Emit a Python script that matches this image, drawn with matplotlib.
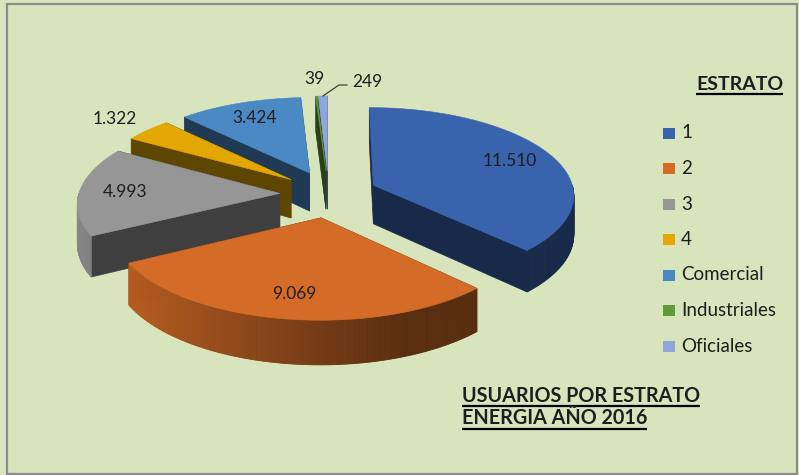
import numpy as np
import matplotlib
matplotlib.use('Agg')
import matplotlib.pyplot as plt
from matplotlib.patches import Polygon, Rectangle
import matplotlib.colors as mcolors

plt.rcParams['font.family'] = ['Lato', 'DejaVu Sans']

# Data
labels = ['1', '2', '3', '4', 'Comercial', 'Industriales', 'Oficiales']
usuarios = [11510, 9069, 4993, 1322, 3424, 39, 249]
value_text = ['11.510', '9.069', '4.993', '1.322', '3.424', '39', '249']
colors = ['#3a63ad', '#d46b26', '#969696', '#e2a700', '#4a89c3', '#5f9a3b', '#8ea6da']
legend_title = 'ESTRATO'
title_lines = ['USUARIOS POR ESTRATO', 'ENERGIA AÑO 2016']

bg = '#d8e4bc'
txt_col = '#1e1e1e'

# 3D pie projection (pixel space, y down)
cx, cy = 328.6, 194
rx, ry = 201, 87
persp = 0.1
ex, ey = 0.243, 0.27
depth = 39


def proj(u, v, z=0.0):
    s = 1.0 / (1.0 + persp * v)
    return cx + rx * u * s, cy - ry * v * s + depth * z * s


def shade(c, f):
    r, g, b = mcolors.to_rgb(c)
    return (r * f, g * f, b * f)


fig = plt.figure(figsize=(7.99, 4.75), dpi=100, facecolor=bg)
ax = fig.add_axes([0, 0, 1, 1])
ax.set_xlim(0, 799)
ax.set_ylim(475, 0)
ax.axis('off')
ax.add_patch(Rectangle((6.5, 4), 790, 470, fill=False, edgecolor='#8c8c8c', lw=1.6))

total = float(sum(usuarios))
slices = []
start = 90.0
for i, val in enumerate(usuarios):
    span = val / total * 360.0
    a_s, a_e = start, start - span
    m = np.radians((a_s + a_e) / 2)
    ou, ov = ex * np.cos(m), ey * np.sin(m)
    slices.append((i, a_s, a_e, m, ou, ov))
    start = a_e

# paint back to front
for i, a_s, a_e, m, ou, ov in sorted(slices, key=lambda t: -t[5]):
    col = colors[i]
    side = shade(col, 0.42)
    n = max(3, int(abs(a_s - a_e) * 2) + 2)
    th = np.radians(np.linspace(a_s, a_e, n))
    vtop = proj(ou, ov)
    vbot = proj(ou, ov, 1)

    def radial(a):
        e_top = proj(ou + np.cos(a), ov + np.sin(a))
        e_bot = proj(ou + np.cos(a), ov + np.sin(a), 1)
        return Polygon([vtop, e_top, e_bot, vbot], closed=True,
                       facecolor=side, edgecolor=side, lw=0.5)

    ra_s, ra_e = np.radians(a_s), np.radians(a_e)
    vis_s = np.cos(ra_s) < 0
    vis_e = np.cos(ra_e) > 0
    faces = [(vis_s, ra_s), (vis_e, ra_e)]
    for vis, a in sorted(faces, key=lambda f: f[0]):
        ax.add_patch(radial(a))

    # outer front wall
    for k in (-1, 0, 1):
        lo = max(a_e, -180 + 360 * k)
        hi = min(a_s, 360 * k)
        if hi <= lo:
            continue
        tt = np.radians(np.linspace(hi, lo, int((hi - lo) * 1.5) + 2))
        for t0, t1 in zip(tt[:-1], tt[1:]):
            tm = (t0 + t1) / 2
            f = np.clip(0.55 - 0.35 * np.cos(tm), 0.42, 0.95)
            c = shade(col, f)
            pts = [proj(ou + np.cos(t0), ov + np.sin(t0)),
                   proj(ou + np.cos(t1), ov + np.sin(t1)),
                   proj(ou + np.cos(t1), ov + np.sin(t1), 1),
                   proj(ou + np.cos(t0), ov + np.sin(t0), 1)]
            ax.add_patch(Polygon(pts, closed=True, facecolor=c, edgecolor=c, lw=0.6))

    top = [vtop] + [proj(ou + np.cos(t), ov + np.sin(t)) for t in th]
    ax.add_patch(Polygon(top, closed=True, facecolor=col, edgecolor=col, lw=0.4))

# data labels
for i, a_s, a_e, m, ou, ov in slices:
    frac = usuarios[i] / total
    if i == len(usuarios) - 1:
        x0, y0 = proj(ou + np.cos(m), ov + np.sin(m))
        ax.plot([x0, x0 + 16, x0 + 24], [y0, y0 - 11, y0 - 11], color='#404040', lw=0.9)
        ax.text(x0 + 29, y0 - 14, value_text[i], fontsize=12.5, color=txt_col,
                ha='left', va='center')
        continue
    r = 1.25 if frac < 0.05 else 0.77
    x, y = proj(ou + r * np.cos(m), ov + r * np.sin(m))
    ax.text(x, y, value_text[i], fontsize=12.5, color=txt_col, ha='center', va='center')

# legend
ly0, lstep = 133, 35.5
for i, lab in enumerate(labels):
    y = ly0 + i * lstep
    ax.add_patch(Rectangle((663, y - 5.5), 12, 11, facecolor=colors[i], edgecolor='none'))
    ax.text(681, y, lab, fontsize=13.5, color=txt_col, ha='left', va='center')

texts = []
texts.append(ax.text(783, 85, legend_title, fontsize=14, fontweight='bold',
                     color=txt_col, ha='right', va='center'))
for j, line in enumerate(title_lines):
    texts.append(ax.text(462, 396 + j * 22.5, line, fontsize=14.2, fontweight='bold',
                         color=txt_col, ha='left', va='center'))

fig.canvas.draw()
inv = ax.transData.inverted()
for t in texts:
    bb = t.get_window_extent()
    (x0, y0), (x1, _) = inv.transform([(bb.x0, bb.y0), (bb.x1, bb.y0)])
    ax.plot([x0, x1], [y0, y0], color='black', lw=1.6, solid_capstyle='butt')

fig.savefig('out.png', dpi=100, facecolor=bg)
